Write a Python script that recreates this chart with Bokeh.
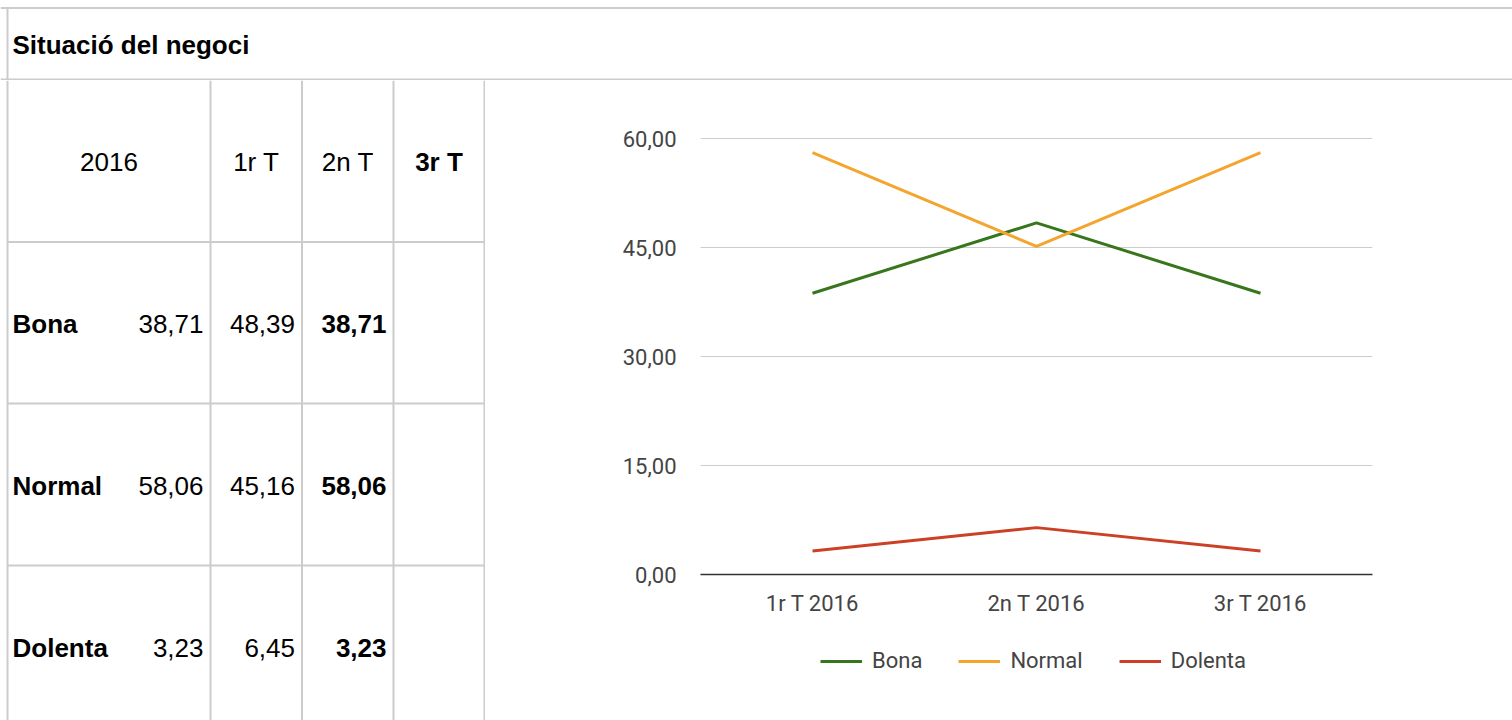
from bokeh.plotting import figure
from bokeh.models import Range1d, FixedTicker, Legend, LegendItem
from bokeh.layouts import column, row
from bokeh.embed import file_html
from bokeh.resources import INLINE
from bokeh.core.properties import value

# ---------------- data ----------------
title = "Situació del negoci"
year = "2016"
quarters = ["1r T", "2n T", "3r T"]
series_names = ["Bona", "Normal", "Dolenta"]
bona = [38.71, 48.39, 38.71]
normal = [58.06, 45.16, 58.06]
dolenta = [3.23, 6.45, 3.23]
y_ticks = [0, 15, 30, 45, 60]
series_colors = ["#38761d", "#f4a52e", "#cc4125"]

series_values = [bona, normal, dolenta]


def fmt(v):
    return f"{v:.2f}".replace(".", ",")


# ---------------- layout constants ----------------
W = 1512
TITLE_H = 80
BODY_H = 640
TABLE_W = 485
CHART_W = W - TABLE_W
CHART_H = 560
LEG_H = BODY_H - CHART_H
GRID = "#cccccc"
TFONT = "Liberation Sans"
CFONT = "Roboto"
TSIZE = "26px"
CSIZE = "22px"


def blank(w, h, invert=True):
    f = figure(width=w, height=h, x_range=Range1d(0, w),
               y_range=Range1d(h, 0) if invert else Range1d(0, h),
               output_backend="svg", toolbar_location=None, min_border=0,
               x_axis_location=None, y_axis_location=None)
    f.grid.visible = False
    f.outline_line_color = None
    f.background_fill_color = "white"
    f.border_fill_color = "white"
    f.frame_align = False
    return f


# ---------------- title row ----------------
tf = blank(W, TITLE_H)
tf.segment(x0=[0, 0, 7], y0=[7.5, TITLE_H - 1, 7.5], x1=[W, W, 7], y1=[7.5, TITLE_H - 1, TITLE_H],
           line_color=GRID, line_width=2)
tf.text(x=[12], y=[44], text=[title], text_font=value(TFONT), text_font_size=TSIZE,
        text_font_style="bold", text_baseline="middle", text_align="left", text_color="#000000")

# ---------------- table ----------------
tb = blank(TABLE_W, BODY_H)
col_edges = [7, 210, 301.5, 393, 484]
row_edges = [0, 161.5, 323, 485, 647]
tb.segment(x0=col_edges, y0=[0] * len(col_edges), x1=col_edges, y1=[BODY_H] * len(col_edges),
           line_color=GRID, line_width=2)
tb.segment(x0=[col_edges[0]] * 3, y0=row_edges[1:4], x1=[col_edges[-1]] * 3, y1=row_edges[1:4],
           line_color=GRID, line_width=2)

row_c = [(row_edges[i] + row_edges[i + 1]) / 2 for i in range(4)]
col_c = [(col_edges[i] + col_edges[i + 1]) / 2 for i in range(4)]

# header
norm_x, norm_y, norm_t = [col_c[0]], [row_c[0] + 1], [year]
bold_x, bold_y, bold_t = [], [], []
for j, q in enumerate(quarters):
    if j == len(quarters) - 1:
        bold_x.append(col_c[j + 1]); bold_y.append(row_c[0] + 1); bold_t.append(q)
    else:
        norm_x.append(col_c[j + 1]); norm_y.append(row_c[0] + 1); norm_t.append(q)
tb.text(x=norm_x, y=norm_y, text=norm_t, text_font=value(TFONT), text_font_size=TSIZE,
        text_baseline="middle", text_align="center", text_color="#000000")
tb.text(x=bold_x, y=bold_y, text=bold_t, text_font=value(TFONT), text_font_size=TSIZE,
        text_font_style="bold", text_baseline="middle", text_align="center", text_color="#000000")

# body rows
lab_y = [row_c[i + 1] + 1 for i in range(len(series_names))]
tb.text(x=[col_edges[0] + 5] * len(series_names), y=lab_y, text=series_names, text_font=value(TFONT),
        text_font_size=TSIZE, text_font_style="bold", text_baseline="middle", text_align="left",
        text_color="#000000")
vx, vy, vt, bx, by, bt = [], [], [], [], [], []
for i, vals in enumerate(series_values):
    for j, v in enumerate(vals):
        xr = col_edges[j + 1] - 7
        if j == len(vals) - 1:
            bx.append(xr); by.append(lab_y[i]); bt.append(fmt(v))
        else:
            vx.append(xr); vy.append(lab_y[i]); vt.append(fmt(v))
tb.text(x=vx, y=vy, text=vt, text_font=value(TFONT), text_font_size=TSIZE,
        text_baseline="middle", text_align="right", text_color="#000000")
tb.text(x=bx, y=by, text=bt, text_font=value(TFONT), text_font_size=TSIZE, text_font_style="bold",
        text_baseline="middle", text_align="right", text_color="#000000")

# ---------------- chart ----------------
xs = list(range(len(quarters)))
ch = figure(width=CHART_W, height=CHART_H,
            x_range=Range1d(-0.5, len(quarters) - 0.5),
            y_range=Range1d(y_ticks[0], y_ticks[-1] + 0.14),
            output_backend="svg", toolbar_location=None,
            min_border_left=215, min_border_right=140, min_border_top=57, min_border_bottom=66)
ch.frame_align = False
ch.outline_line_color = None
ch.background_fill_color = "white"
ch.border_fill_color = "white"

ch.xaxis.ticker = FixedTicker(ticks=xs)
ch.xaxis.major_label_overrides = {x: f"{q} {year}" for x, q in zip(xs, quarters)}
ch.xaxis.axis_line_color = "#333333"
ch.xaxis.axis_line_width = 1.5
ch.xaxis.major_tick_line_color = None
ch.xaxis.minor_tick_line_color = None
ch.xaxis.major_label_standoff = 10
ch.xaxis.major_label_text_font = CFONT
ch.xaxis.major_label_text_font_size = CSIZE
ch.xaxis.major_label_text_color = "#444444"

ch.yaxis.ticker = FixedTicker(ticks=y_ticks)
ch.yaxis.major_label_overrides = {t: fmt(t) for t in y_ticks}
ch.yaxis.axis_line_color = None
ch.yaxis.major_tick_line_color = None
ch.yaxis.minor_tick_line_color = None
ch.yaxis.major_label_standoff = 18
ch.yaxis.major_label_text_font = CFONT
ch.yaxis.major_label_text_font_size = CSIZE
ch.yaxis.major_label_text_color = "#444444"

ch.xgrid.grid_line_color = None
ch.ygrid.grid_line_color = GRID
ch.ygrid.grid_line_width = 1

for vals, col in zip(series_values, series_colors):
    ch.line(x=xs, y=vals, line_color=col, line_width=3)

# ---------------- legend strip under the chart ----------------
lg = blank(CHART_W, LEG_H, invert=False)
# series are drawn here on an off-screen range only so the legend can show their line styles
lg.extra_x_ranges["off"] = Range1d(1000, 2000)
items = []
for name, vals, col in zip(series_names, series_values, series_colors):
    r = lg.line(x=xs, y=vals, line_color=col, line_width=3, x_range_name="off")
    items.append(LegendItem(label=name, renderers=[r]))

legend = Legend(items=items, orientation="horizontal", location=(335, 47),
                border_line_color=None, background_fill_alpha=0, padding=0, margin=0,
                glyph_width=42, glyph_height=20, label_height=20, label_standoff=10, spacing=36,
                label_text_font=CFONT, label_text_font_size=CSIZE, label_text_color="#444444")
lg.add_layout(legend)

layout = column(tf, row(tb, column(ch, lg, spacing=0), spacing=0), spacing=0)

open("out.html", "w").write(file_html(layout, INLINE))
